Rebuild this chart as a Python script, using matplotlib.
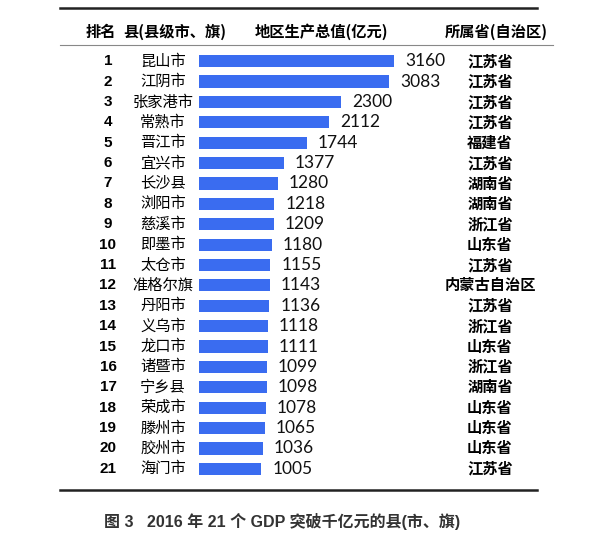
import matplotlib.pyplot as plt
import matplotlib.transforms as mtransforms
from matplotlib.lines import Line2D

plt.rcParams['font.family'] = ['Noto Sans CJK SC', 'DejaVu Sans']

ranks = list(range(1, 22))
counties = ["昆山市", "江阴市", "张家港市", "常熟市", "晋江市", "宜兴市", "长沙县",
            "浏阳市", "慈溪市", "即墨市", "太仓市", "准格尔旗", "丹阳市", "义乌市",
            "龙口市", "诸暨市", "宁乡县", "荣成市", "滕州市", "胶州市", "海门市"]
gdp = [3160, 3083, 2300, 2112, 1744, 1377, 1280, 1218, 1209, 1180, 1155,
       1143, 1136, 1118, 1111, 1099, 1098, 1078, 1065, 1036, 1005]
provinces = ["江苏省", "江苏省", "江苏省", "江苏省", "福建省", "江苏省", "湖南省",
             "湖南省", "浙江省", "山东省", "江苏省", "内蒙古自治区", "江苏省", "浙江省",
             "山东省", "浙江省", "湖南省", "山东省", "山东省", "山东省", "江苏省"]
headers = ["排名", "县(县级市、旗)", "地区生产总值(亿元)", "所属省(自治区)"]
caption = "图 3   2016 年 21 个 GDP 突破千亿元的县(市、旗)"

W, H = 608, 544
fig = plt.figure(figsize=(W / 100, H / 100), dpi=100)

def fx(px):
    return px / W

def fy(py):
    return 1 - py / H

# bar axes: left edge at x=198px, 3160 -> 195px wide
ax_left, ax_right = 199, 598
ax = fig.add_axes([fx(ax_left), fy(479), fx(ax_right - ax_left), 428 / H])
ax.set_xlim(0, 3160 * (ax_right - ax_left) / 195)
ax.set_ylim(21.5, 0.5)
ax.axis("off")
ax.barh(ranks, gdp, height=0.6, color="#3a6cf0")

for r, v in zip(ranks, gdp):
    ax.text(v + 180, r, str(v), va="center", ha="left", fontsize=12.5,
            family=["Lato", "DejaVu Sans"], color="#111111")

tr = mtransforms.blended_transform_factory(fig.transFigure, ax.transData)
for r, name, prov in zip(ranks, counties, provinces):
    ax.text(fx(108), r, str(r), transform=tr, ha="center", va="center",
            fontsize=11, fontweight="bold", family=["Liberation Sans", "DejaVu Sans"])
    ax.text(fx(163), r, name, transform=tr, ha="center", va="center", fontsize=11)
    ax.text(fx(490), r, prov, transform=tr, ha="center", va="center",
            fontsize=11, fontweight="bold")

# header
hy = fy(32)
fig.text(fx(101), hy, headers[0], ha="center", va="center", fontsize=11, fontweight="bold")
fig.text(fx(175), hy, headers[1], ha="center", va="center", fontsize=11, fontweight="bold")
fig.text(fx(321), hy, headers[2], ha="center", va="center", fontsize=11, fontweight="bold")
fig.text(fx(496), hy, headers[3], ha="center", va="center", fontsize=11, fontweight="bold")

# rules
fig.add_artist(Line2D([fx(60), fx(537)], [fy(8), fy(8)], color="#222222", lw=1.8))
fig.add_artist(Line2D([fx(60), fx(553)], [fy(45), fy(45)], color="#888888", lw=0.8))
fig.add_artist(Line2D([fx(60), fx(537)], [fy(490), fy(490)], color="#222222", lw=1.8))

fig.text(fx(282), fy(522), caption, ha="center", va="center", fontsize=11.5,
         fontweight="bold", color="#333333",
         family=["Liberation Sans", "Noto Sans CJK SC"])

fig.savefig("out.png", dpi=100)
